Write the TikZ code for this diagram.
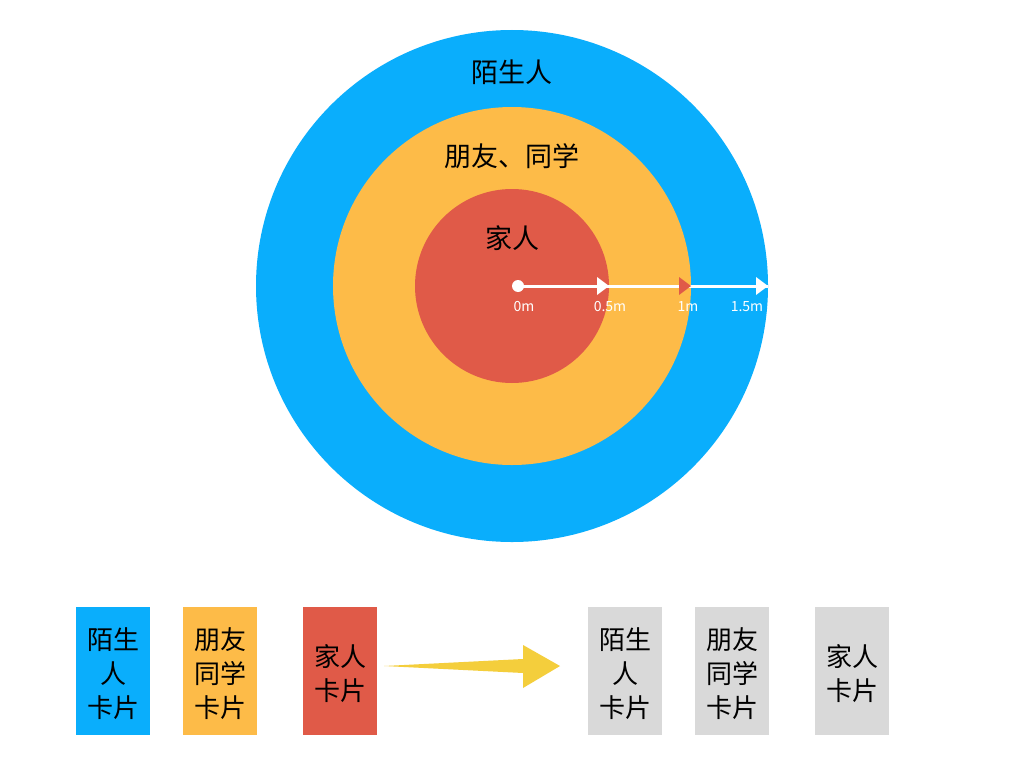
\documentclass[tikz,border=0pt]{standalone}
\usepackage{fontspec}
\setmainfont{Noto Sans CJK SC}
\definecolor{cblue}{HTML}{0AAEFC}
\definecolor{corange}{HTML}{FDBB48}
\definecolor{cred}{HTML}{E05A48}
\definecolor{cgray}{HTML}{D9D9D9}
\definecolor{cyel}{HTML}{F4CE3C}
\begin{document}
\begin{tikzpicture}[x=1pt,y=-1pt,
  ring/.style={font=\fontsize{27}{30}\selectfont},
  lab/.style={text=white,font=\fontsize{14}{15}\selectfont},
  card/.style={minimum width=74pt,minimum height=128pt,inner sep=0pt},
  cardtxt/.style={inner sep=0pt,align=center,font=\fontsize{26}{34}\selectfont}]
\useasboundingbox[fill=white] (0,0) rectangle (1024,768);
\fill[cblue] (512,286) circle (256);
\fill[corange] (512,286) circle (179);
\fill[cred] (512,286) circle (97);
\node[ring] (t1) at (512,72) {陌生人};
\node[ring] (t2) at (512,156) {朋友、同学};
\node[ring] (t3) at (512,238) {家人};
\coordinate (o) at (518,286);
\coordinate (a) at (609,286);
\coordinate (b) at (691,286);
\coordinate (c) at (768,286);
\draw[white,line width=3pt] (o) -- (c);
\fill[white] (o) circle (6);
\fill[white] (a) -- ++(-12,-9) -- ++(0,18) -- cycle;
\fill[cred] (b) -- ++(-12,-9) -- ++(0,18) -- cycle;
\fill[white] (c) -- ++(-12,-9) -- ++(0,18) -- cycle;
\node[lab] (l0) at (524,307) {0m};
\node[lab] (l1) at (610,307) {0.5m};
\node[lab] (l2) at (688,307) {1m};
\node[lab] (l3) at (747,307) {1.5m};
\node[card,fill=cblue] (k1) at (113,671) {};
\node[card,fill=corange] (k2) at (220,671) {};
\node[card,fill=cred] (k3) at (340,671) {};
\node[card,fill=cgray] (g1) at (625,671) {};
\node[card,fill=cgray] (g2) at (732,671) {};
\node[card,fill=cgray] (g3) at (852,671) {};
\node[cardtxt] (k1t) at (113,674) {陌生\\人\\卡片};
\node[cardtxt] (k2t) at (220,674) {朋友\\同学\\卡片};
\node[cardtxt] (k3t) at (340,674) {家人\\卡片};
\node[cardtxt] (g1t) at (625,674) {陌生\\人\\卡片};
\node[cardtxt] (g2t) at (732,674) {朋友\\同学\\卡片};
\node[cardtxt] (g3t) at (852,674) {家人\\卡片};
\fill[cyel] (384,666) -- (523,659) -- (523,645) -- (560,666) -- (523,688) -- (523,673) -- cycle;
\end{tikzpicture}
\end{document}
